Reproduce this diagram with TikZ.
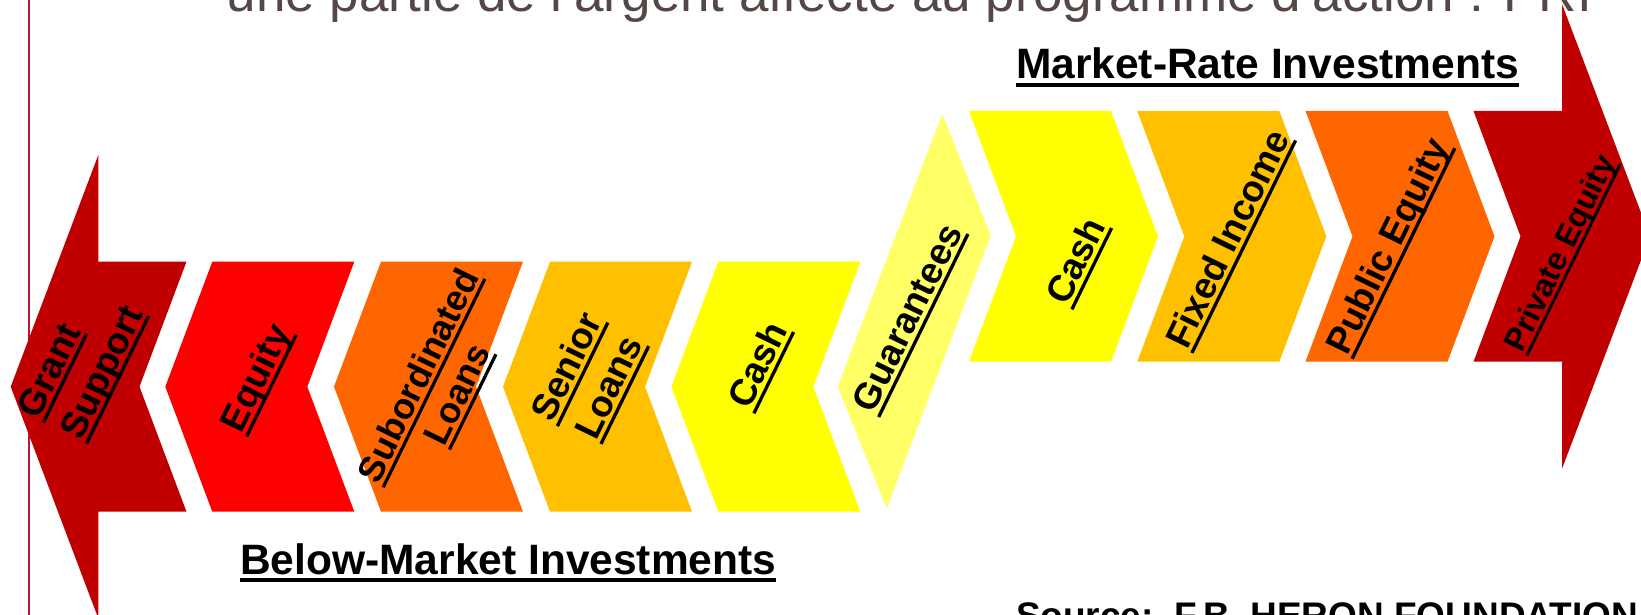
\documentclass[tikz,border=0pt]{standalone}
\usepackage{fontspec}
\setmainfont{Liberation Sans}
\definecolor{cDarkRed}{HTML}{C00000}
\definecolor{cRed}{HTML}{FF0000}
\definecolor{cOrange}{HTML}{FF6600}
\definecolor{cAmber}{HTML}{FFC000}
\definecolor{cYellow}{HTML}{FFFF00}
\definecolor{cPale}{HTML}{FFFF66}
\definecolor{cRule}{RGB}{192,16,60}
\definecolor{cTitle}{RGB}{87,70,70}
% underline at a fixed distance below the baseline
\newsavebox\ulsave
\newcommand\ulbox[1]{\sbox\ulsave{#1}\rlap{\rule[-0.19em]{\wd\ulsave}{0.09em}}\usebox\ulsave}
\tikzset{
  label/.style={rotate=64, inner sep=0pt, align=center, font=\bfseries\fontsize{37}{43}\selectfont},
  heading/.style={anchor=base, inner sep=0pt, font=\bfseries\fontsize{42.5}{50}\selectfont},
}
\begin{document}
\begin{tikzpicture}[x=1pt,y=-1pt]
\useasboundingbox (0,0) rectangle (1641,615);
\fill[white] (0,0) rectangle (1641,615);
\clip (0,0) rectangle (1641,615);

% slide title, partly outside the frame
\node[anchor=base west, inner sep=0pt, text=cTitle, font=\fontsize{53}{60}\selectfont]
  (title) at (226.7,11.7) {une partie de l'argent affecté au programme d'action : PRI};

% left margin rule
\draw[cRule, line width=2pt] (29,0) -- (29,615);

% below-market row: chevrons pointing left
\fill[cDarkRed] (98.3,155) -- (98.3,261.7) -- (186.5,261.7) -- (139.5,386.7)
  -- (186.5,511.7) -- (98.3,511.7) -- (98.3,618.4) -- (10.7,386.7) -- cycle;
\foreach \L/\c in {212.3/cRed, 381/cOrange, 550/cAmber, 718.3/cYellow}{
  \fill[\c] (\L,261.7) -- (\L+142,261.7) -- (\L+95,386.7) -- (\L+142,511.7)
    -- (\L,511.7) -- (\L-47,386.7) -- cycle;
}

% transition piece
\fill[cPale] (942.3,114) -- (990.7,235.5) -- (886.7,508.3) -- (837.7,386.7) -- cycle;

% market-rate row: chevrons pointing right
\foreach \L/\c in {969/cYellow, 1137.3/cAmber, 1305.5/cOrange}{
  \fill[\c] (\L,111) -- (\L+142,111) -- (\L+189,236.4) -- (\L+142,361.7)
    -- (\L,361.7) -- (\L+47,236.4) -- cycle;
}
\fill[cDarkRed] (1473.5,111) -- (1562,111) -- (1562,4) -- (1650,236.4)
  -- (1562,468.8) -- (1562,361.7) -- (1473.5,361.7) -- (1520.5,236.4) -- cycle;

% labels of the instruments
\node[label, align=left, font=\bfseries\fontsize{37}{48}\selectfont] (grant) at (83,363) {\ulbox{Grant}\\\ulbox{Support}};
\node[label] (equity) at (258,379) {\ulbox{Equity}};
\node[label, font=\bfseries\fontsize{36}{43}\selectfont] (subord) at (440,386) {\ulbox{Subordinated}\\\ulbox{Loans}};
\node[label, font=\bfseries\fontsize{37}{47}\selectfont] (senior) at (590,378) {\ulbox{Senior}\\\ulbox{Loans}};
\node[label] (cashlow) at (760,366) {\ulbox{Cash}};
\node[label] (guar) at (910,319) {\ulbox{Guarantees}};
\node[label] (cashup) at (1078,262) {\ulbox{Cash}};
\node[label] (fixed) at (1230,240) {\ulbox{Fixed Income}};
\node[label] (public) at (1390,247) {\ulbox{Public Equity}};
\node[label, font=\bfseries\fontsize{32}{38}\selectfont] (private) at (1562,254) {\ulbox{Private Equity}};

% row headings
\node[heading] (market) at (1267.7,79) {\ulbox{Market-Rate Investments}};
\node[heading] (below) at (508.3,574) {\ulbox{Below-Market Investments}};

% source line, cut by the lower edge
\node[anchor=base west, inner sep=0pt, font=\bfseries\fontsize{37}{43}\selectfont]
  (source) at (1015.8,628) {Source:\ \ F.B. HERON FOUNDATION};
\end{tikzpicture}
\end{document}
